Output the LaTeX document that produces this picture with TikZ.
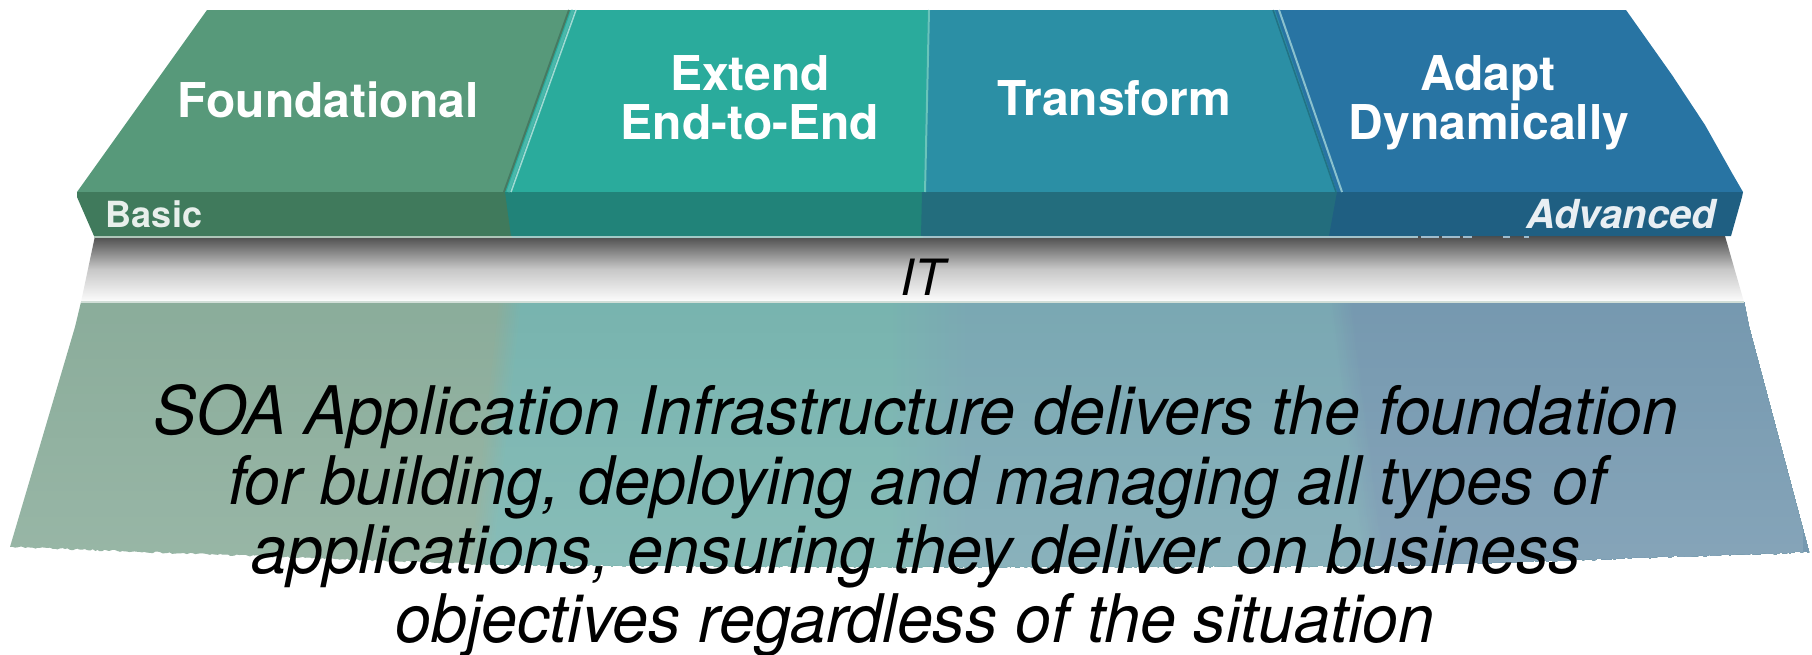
\documentclass[tikz,border=0pt]{standalone}
\usepackage{fontspec}
\usepackage{graphicx}
\setmainfont{TeX Gyre Heros}
\usetikzlibrary{fadings,decorations.pathmorphing}
\definecolor{cGreen}{HTML}{57997A}
\definecolor{cTeal}{HTML}{2AAB9C}
\definecolor{cCyan}{HTML}{2B8FA5}
\definecolor{cBlue}{HTML}{2874A3}
\definecolor{fGreen}{HTML}{407A5C}
\definecolor{fTeal}{HTML}{218379}
\definecolor{fCyan}{HTML}{236D7D}
\definecolor{fBlue}{HTML}{1F5F82}
\definecolor{lGreen}{HTML}{8BAD9B}
\definecolor{lTeal}{HTML}{78B4AF}
\definecolor{lCyan}{HTML}{7AA8B3}
\definecolor{lBlue}{HTML}{7699B0}
\definecolor{tickc}{HTML}{A0BCCC}
\pgfdeclareverticalshading{itband}{100bp}{
  color(0bp)=(white);
  color(24bp)=(white);
  color(50bp)=(black!22);
  color(76bp)=(black!72);
  color(100bp)=(black!76)}
\tikzfading[name=lowerfade, top color=transparent!100, bottom color=transparent!88]
\newcommand{\bodytext}[1]{\scalebox{0.9635}[1]{#1}}
\tikzset{
  headlabel/.style={text=white,font=\fontsize{48}{50}\selectfont\bfseries,anchor=base,inner sep=0pt},
  bodyline/.style={text=black,font=\fontsize{67}{69}\selectfont\itshape,anchor=base,inner sep=0pt},
}
\begin{document}
\begin{tikzpicture}[x=1pt,y=-1pt]
\useasboundingbox (0,0) rectangle (1812,654);
\pgfmathsetseed{7}
% lower section
\begin{scope}
\clip (81,302) -- (75,327) -- (10,547) decorate[decoration={random steps,segment length=2.5pt,amplitude=0.9pt}]{ -- (500,565) -- (906,567) -- (1400,566) -- (1809,552)} -- (1749,327) -- (1744,302) -- cycle;
\fill[lGreen] (0,295) rectangle (1812,580);
\foreach \i in {1,...,12}{
  \pgfmathsetmacro{\p}{100*\i/12}
  \fill[lTeal!\p!lGreen] ({497+\i*2},302) -- (1812,302) -- (1812,570) -- ({468+\i*2},570) -- cycle;
}
\foreach \i in {1,...,20}{
  \pgfmathsetmacro{\p}{100*\i/20}
  \fill[lCyan!\p!lTeal] ({885+\i*4},302) -- (1812,302) -- (1812,570) -- ({885+\i*4},570) -- cycle;
}
\foreach \i in {1,...,12}{
  \pgfmathsetmacro{\p}{100*\i/12}
  \fill[lBlue!\p!lCyan] ({1328+\i*2},302) -- (1812,302) -- (1812,570) -- ({1362+\i*2},570) -- cycle;
}
\fill[white,path fading=lowerfade] (0,302) rectangle (1812,570);
\end{scope}
% IT band
\shade[shading=itband] (95,236) -- (1725,236) -- (1744,302) -- (81,302) -- cycle;
\draw[draw=lGreen!40,line width=1.2pt] (81,302) -- (1744,302);
% faces
\fill[cGreen] (207,10) -- (574,10) -- (506,192) -- (77,192) -- cycle;
\fill[cTeal] (570,10) -- (930,10) -- (925,192) -- (504,192) -- cycle;
\fill[cCyan] (928,10) -- (1277,10) -- (1340,192) -- (924,192) -- cycle;
\fill[cBlue] (1275,10) -- (1626,10) -- (1672,75) -- (1705,125) -- (1732,173) -- (1743,192) -- (1337,192) -- cycle;
% front band
\fill[fGreen] (77,192) -- (506,192) -- (512,236) -- (94,236) -- (77,197) -- cycle;
\fill[fTeal] (505,192) -- (924,192) -- (923,236) -- (511,236) -- cycle;
\fill[fCyan] (922,192) -- (1339,192) -- (1330,236) -- (921,236) -- cycle;
\fill[fBlue] (1337,192) -- (1743,192) -- (1742,197) -- (1731,236) -- (1329,236) -- cycle;
% band underline
\fill[lGreen!70!white] (94,235.5) rectangle (512,238);
\fill[lTeal!70!white] (512,235.5) rectangle (923,238);
\fill[lCyan!70!white] (923,235.5) rectangle (1418,238);
\foreach \ta/\tb in {1421/1439,1442/1460,1463/1472,1503/1510,1524/1529}
  \fill[tickc] (\ta,235.5) rectangle (\tb,238);
% top-face dividers
\draw[cGreen!80!black,line width=2pt] (569,10) -- (504,192);
\draw[cTeal!85!white,line width=3pt] (573,10) -- (508,192);
\draw[cTeal!45!white,line width=1.5pt] (576,10) -- (511,192);
\draw[cTeal!70!white,line width=2pt] (929,10) -- (925,192);
\draw[cCyan!80!black,line width=1.5pt] (1273,10) -- (1336,192);
\draw[cCyan!55!white,line width=2pt] (1279,10) -- (1342,192);
% labels
\node[headlabel] (foundational) at (328,117) {Foundational};
\node[headlabel] (extend) at (750,90) {Extend};
\node[headlabel] (endtoend) at (750,139) {End-to-End};
\node[headlabel] (transform) at (1114,115) {Transform};
\node[headlabel] (adapt) at (1488,90) {Adapt};
\node[headlabel] (dynamically) at (1489,139) {Dynamically};
\node[anchor=base,inner sep=0pt,text=white!88!fGreen,font=\fontsize{36}{38}\selectfont\bfseries] (basic) at (154,227) {Basic};
\node[anchor=base,inner sep=0pt,text=white!90!fBlue,font=\fontsize{40}{42}\selectfont\bfseries\itshape] (advanced) at (1621,228) {Advanced};
\node[anchor=base,inner sep=0pt,text=black,font=\fontsize{50}{52}\selectfont\itshape] (it) at (923,295) {IT};
\node[bodyline] (l1) at (916,434) {\bodytext{SOA Application Infrastructure delivers the foundation}};
\node[bodyline] (l2) at (917,504) {\bodytext{for building, deploying and managing all types of}};
\node[bodyline] (l3) at (916,573) {\bodytext{applications, ensuring they deliver on business}};
\node[bodyline] (l4) at (915,642) {\bodytext{objectives regardless of the situation}};
\end{tikzpicture}
\end{document}
